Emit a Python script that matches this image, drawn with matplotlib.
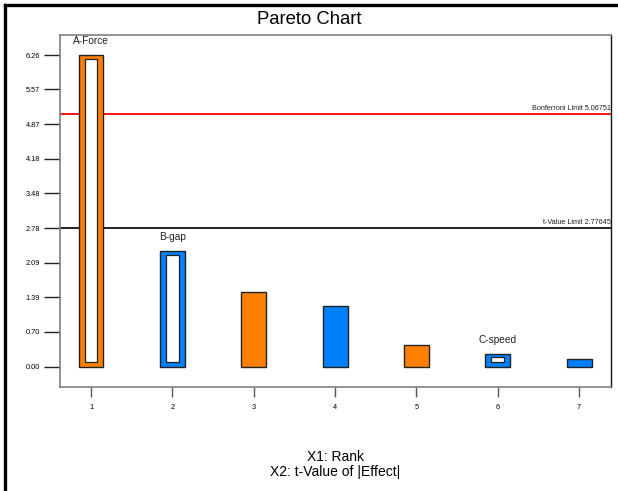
import numpy as np
import matplotlib
matplotlib.use('Agg')
import matplotlib.pyplot as plt
from matplotlib.lines import Line2D

plt.rcParams['font.family'] = ['Liberation Sans', 'DejaVu Sans']

# ranked effects (t-value of |effect|)
rank = [1, 2, 3, 4, 5, 6, 7]
t_values = [6.26, 2.32, 1.51, 1.21, 0.43, 0.255, 0.15]
effect_sign = ['+', '-', '+', '-', '+', '-', '-']
term_labels = ['A-Force', 'B-gap', '', '', '', 'C-speed', '']

bonferroni_limit = 5.06751
t_limit = 2.77645

y_ticks = [0.00, 0.70, 1.39, 2.09, 2.78, 3.48, 4.18, 4.87, 5.57, 6.26]

orange = '#FF8000'
blue = '#0080FF'
colors = [orange if s == '+' else blue for s in effect_sign]

fig = plt.figure(figsize=(6.18, 4.91), dpi=100)
ax = fig.add_axes([0.0971, 0.2118, 0.8916, 0.7169])

bar_w = 0.307
ax.bar(rank, t_values, width=bar_w, color=colors, edgecolor='#222222', linewidth=1.0, zorder=3)

# white inner bars for the model terms
for x, v, lab in zip(rank, t_values, term_labels):
    if lab:
        ax.bar(x, v - 0.07 - 0.09, bottom=0.09, width=0.155, color='white',
               edgecolor='#222222', linewidth=0.9, zorder=4)
        ax.annotate(lab, (x, v), xytext=(0, 10), textcoords='offset points',
                    ha='center', va='center', fontsize=7.3, color='#222222')

ax.axhline(bonferroni_limit, color='#FF0000', linewidth=1.3, zorder=2)
ax.axhline(t_limit, color='#111111', linewidth=1.3, zorder=2)
ax.annotate('Bonferroni Limit %.5f' % bonferroni_limit, (7.39, bonferroni_limit),
            xytext=(0, 1.5), textcoords='offset points', ha='right', va='bottom',
            fontsize=5.2, color='#222222')
ax.annotate('t-Value Limit %.5f' % t_limit, (7.39, t_limit),
            xytext=(0, 1.5), textcoords='offset points', ha='right', va='bottom',
            fontsize=5.2, color='#222222')

ax.set_xlim(0.619, 7.393)
ax.set_ylim(-0.408, 6.662)
ax.set_xticks(rank)
ax.set_yticks(y_ticks)
ax.set_yticklabels(['%.2f' % t for t in y_ticks])
ax.tick_params(axis='y', direction='out', length=11.5, width=1.0, pad=3,
               labelsize=5.3, color='#222222')
ax.tick_params(axis='x', direction='out', length=7.2, width=1.0, pad=5,
               labelsize=5.3, color='#555555')

for side in ['left', 'top', 'bottom']:
    ax.spines[side].set_color('#808080')
    ax.spines[side].set_linewidth(1.2)
ax.spines['right'].set_color('#111111')
ax.spines['right'].set_linewidth(1.0)

ax.set_xlabel('X1: Rank\nX2: t-Value of |Effect|', fontsize=10, labelpad=28,
              linespacing=1.12)

fig.text(0.5, 1 - 19 / 491, 'Pareto Chart', ha='center', va='center', fontsize=13.3)

# outer frame
fig.add_artist(Line2D([5 / 618, 617 / 618], [1 - 5 / 491, 1 - 5 / 491],
                      transform=fig.transFigure, color='black', linewidth=2.4))
fig.add_artist(Line2D([5 / 618, 5 / 618], [0, 1 - 5 / 491],
                      transform=fig.transFigure, color='black', linewidth=2.4))

fig.savefig('out.png', dpi=100)
